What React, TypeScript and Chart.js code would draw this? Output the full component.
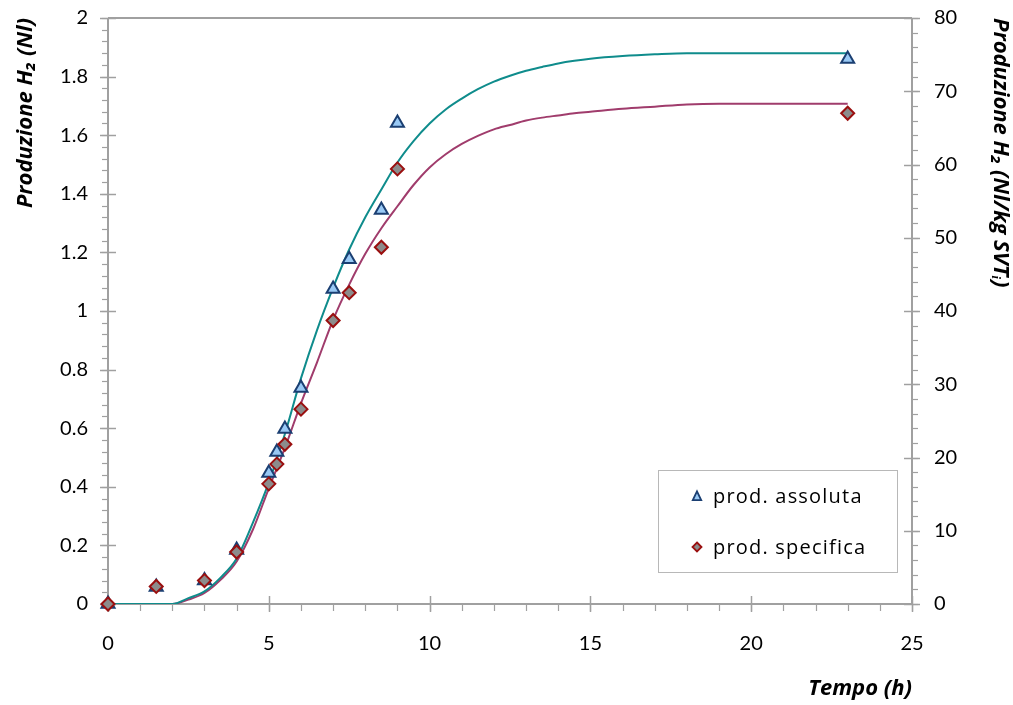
import React, { useEffect, useRef } from 'react';
import { Chart, registerables } from 'chart.js';

Chart.register(...registerables);

// Measured points
const timeMeasured = [0, 1.5, 3, 4, 5, 5.25, 5.5, 6, 7, 7.5, 8.5, 9, 23];
const prodAssoluta = [0, 0.058, 0.08, 0.184, 0.447, 0.519, 0.597, 0.737, 1.075, 1.177, 1.345, 1.642, 1.86];
const prodSpecifica = [0, 2.4, 3.2, 7.1, 16.4, 19.1, 21.8, 26.6, 38.7, 42.5, 48.7, 59.4, 67.0];

// Model curves
const timeModel = [0, 1, 2, 2.5, 3, 3.5, 4, 4.5, 5, 5.5, 6, 6.5, 7, 7.5, 8, 8.5, 9, 9.5, 10, 10.5, 11, 11.5, 12, 12.5, 13, 13.5, 14, 14.5, 15, 16, 17, 18, 19, 20, 21, 22, 23];
const modelAssoluta = [0, 0, 0, 0.02, 0.043, 0.09, 0.155, 0.276, 0.415, 0.58, 0.77, 0.935, 1.08, 1.21, 1.32, 1.415, 1.507, 1.58, 1.64, 1.688, 1.725, 1.757, 1.783, 1.803, 1.82, 1.833, 1.845, 1.854, 1.861, 1.87, 1.876, 1.88, 1.88, 1.88, 1.88, 1.88, 1.88];
const modelSpecifica = [0, 0, 0, 0.6, 1.5, 3.3, 5.8, 10.1, 15.8, 21.3, 27.4, 33.0, 38.8, 43.6, 47.8, 51.3, 54.3, 57.2, 59.6, 61.4, 62.8, 63.9, 64.8, 65.4, 66.0, 66.4, 66.7, 67.0, 67.2, 67.6, 67.9, 68.2, 68.3, 68.3, 68.3, 68.3, 68.3];

// Tick labels
const xTicks = [0, 5, 10, 15, 20, 25];
const leftTicks = [0, 0.2, 0.4, 0.6, 0.8, 1, 1.2, 1.4, 1.6, 1.8, 2];
const rightTicks = [0, 10, 20, 30, 40, 50, 60, 70, 80];

const legendLabels = ['prod. assoluta', 'prod. specifica'];

const AXIS = '#a0a0a0';
const TRI_FILL = '#99c9f5';
const TRI_BORDER = '#1b3f72';
const DIA_FILL = '#8c8c8c';
const DIA_BORDER = '#9a0f0f';
const TEAL = '#0f8c8c';
const MAROON = '#a03c6c';

const FONT = 'Lato';
const TITLE_FONT = 'Open Sans';

function drawTri(ctx: CanvasRenderingContext2D, x: number, y: number, s: number) {
  ctx.beginPath();
  ctx.moveTo(x, y - s * 0.8);
  ctx.lineTo(x + s * 0.6, y + s * 0.45);
  ctx.lineTo(x - s * 0.6, y + s * 0.45);
  ctx.closePath();
  ctx.fillStyle = TRI_FILL;
  ctx.fill();
  ctx.strokeStyle = TRI_BORDER;
  ctx.lineWidth = 1.8;
  ctx.stroke();
}

function drawDia(ctx: CanvasRenderingContext2D, x: number, y: number, s: number) {
  ctx.beginPath();
  ctx.moveTo(x, y - s);
  ctx.lineTo(x + s, y);
  ctx.lineTo(x, y + s);
  ctx.lineTo(x - s, y);
  ctx.closePath();
  ctx.fillStyle = DIA_FILL;
  ctx.fill();
  ctx.strokeStyle = DIA_BORDER;
  ctx.lineWidth = 1.8;
  ctx.stroke();
}

const axesPlugin = {
  id: 'axesDeco',
  beforeDatasetsDraw(chart: any) {
    const { ctx, chartArea: a, scales } = chart;
    const sx = scales.x;
    const sl = scales.y;
    const sr = scales.y2;
    const ln = (x1: number, y1: number, x2: number, y2: number) => {
      ctx.beginPath();
      ctx.moveTo(x1, y1);
      ctx.lineTo(x2, y2);
      ctx.stroke();
    };
    ctx.save();
    ctx.strokeStyle = AXIS;
    // minor ticks
    ctx.lineWidth = 1.2;
    for (let i = 0; i <= 50; i++) {
      const p = Math.round(sl.getPixelForValue(i * 0.04)) + 0.5;
      ln(a.left - 6, p, a.left, p);
    }
    for (let i = 0; i <= 40; i++) {
      const p = Math.round(sr.getPixelForValue(i * 2)) + 0.5;
      ln(a.right, p, a.right + 6, p);
    }
    for (let i = 0; i <= 25; i++) {
      const p = Math.round(sx.getPixelForValue(i)) + 0.5;
      ln(p, a.bottom, p, a.bottom + 7);
    }
    // major ticks
    ctx.lineWidth = 1.5;
    leftTicks.forEach((v) => {
      const p = Math.round(sl.getPixelForValue(v)) + 0.5;
      ln(a.left - 8, p, a.left + 8, p);
    });
    rightTicks.forEach((v) => {
      const p = Math.round(sr.getPixelForValue(v)) + 0.5;
      ln(a.right - 8, p, a.right + 8, p);
    });
    xTicks.forEach((v) => {
      const p = Math.round(sx.getPixelForValue(v)) + 0.5;
      ln(p, a.bottom - 8, p, a.bottom + 8);
    });
    // axis lines
    ctx.lineWidth = 2;
    ln(a.left, a.top, a.right, a.top);
    ln(a.left, a.top, a.left, a.bottom);
    ln(a.right, a.top, a.right, a.bottom);
    ln(a.left, a.bottom, a.right, a.bottom);
    ctx.restore();
  },
  afterDraw(chart: any) {
    const { ctx, chartArea: a } = chart;
    const bx = a.left + 550;
    const by = a.top + 452;
    const bw = 239;
    const bh = 102;
    ctx.save();
    ctx.fillStyle = '#ffffff';
    ctx.fillRect(bx, by, bw, bh);
    ctx.strokeStyle = '#b8b8b8';
    ctx.lineWidth = 1;
    ctx.strokeRect(bx + 0.5, by + 0.5, bw, bh);
    drawTri(ctx, bx + 39, by + 27, 7);
    drawDia(ctx, bx + 39, by + 77, 4.5);
    ctx.fillStyle = '#000';
    ctx.font = `20px "${TITLE_FONT}"`;
    (ctx as any).letterSpacing = '1.2px';
    ctx.textBaseline = 'middle';
    ctx.textAlign = 'left';
    ctx.fillText(legendLabels[0], bx + 55, by + 27);
    ctx.fillText(legendLabels[1], bx + 55, by + 78);
    ctx.restore();
  },
};

const noPad = (s: any) => {
  s.paddingTop = 0;
  s.paddingBottom = 0;
  s.paddingLeft = 0;
  s.paddingRight = 0;
};

export default function App() {
  const ref = useRef<HTMLCanvasElement>(null);
  useEffect(() => {
    document.body.style.margin = '0';
    if (!ref.current) return;
    const tickFont = { family: FONT, size: 20 };
    const titleFont = { family: TITLE_FONT, size: 22, weight: 'bold' as const, style: 'italic' as const };
    const chart = new Chart(ref.current, {
      type: 'scatter',
      data: {
        datasets: [
          {
            label: legendLabels[1],
            data: timeMeasured.map((t, i) => ({ x: t, y: prodSpecifica[i] })),
            yAxisID: 'y2',
            pointStyle: 'rectRot',
            pointRadius: 6.5,
            pointBackgroundColor: DIA_FILL,
            pointBorderColor: DIA_BORDER,
            pointBorderWidth: 2,
            showLine: false,
            clip: false,
          } as any,
          {
            label: legendLabels[0],
            data: timeMeasured.map((t, i) => ({ x: t, y: prodAssoluta[i] })),
            yAxisID: 'y',
            pointStyle: 'triangle',
            pointRadius: 7.5,
            pointBackgroundColor: TRI_FILL,
            pointBorderColor: TRI_BORDER,
            pointBorderWidth: 2,
            showLine: false,
            clip: false,
          } as any,
          {
            label: 'model assoluta',
            data: timeModel.map((t, i) => ({ x: t, y: modelAssoluta[i] })),
            yAxisID: 'y',
            showLine: true,
            borderColor: TEAL,
            borderWidth: 2,
            pointRadius: 0,
            cubicInterpolationMode: 'monotone',
          } as any,
          {
            label: 'model specifica',
            data: timeModel.map((t, i) => ({ x: t, y: modelSpecifica[i] })),
            yAxisID: 'y2',
            showLine: true,
            borderColor: MAROON,
            borderWidth: 2,
            pointRadius: 0,
            cubicInterpolationMode: 'monotone',
          } as any,
        ],
      },
      options: {
        animation: false,
        responsive: false,
        layout: { padding: { top: 18, left: 0, right: 0, bottom: 0 } },
        plugins: { legend: { display: false }, tooltip: { enabled: false } },
        scales: {
          x: {
            type: 'linear',
            position: 'bottom',
            min: 0,
            max: 25,
            afterBuildTicks: (s: any) => { s.ticks = xTicks.map((v) => ({ value: v })); },
            afterFit: (s: any) => { s.height = 101; noPad(s); },
            grid: { display: false, drawTicks: false },
            border: { display: false },
            ticks: { font: tickFont, color: '#000', padding: 28, maxRotation: 0, callback: (v: any) => String(v) },
            title: { display: true, text: 'Tempo (h)', align: 'end', font: titleFont, color: '#000', padding: { top: 0, bottom: 3 } },
          },
          y: {
            type: 'linear',
            position: 'left',
            min: 0,
            max: 2,
            afterBuildTicks: (s: any) => { s.ticks = leftTicks.map((v) => ({ value: v })); },
            afterFit: (s: any) => { s.width = 108; noPad(s); },
            grid: { display: false, drawTicks: false },
            border: { display: false },
            ticks: { font: tickFont, color: '#000', padding: 20, callback: (v: any) => String(v) },
            title: { display: true, text: 'Produzione H₂ (Nl)', align: 'end', font: titleFont, color: '#000', padding: { top: 13, bottom: 0 } },
          },
          y2: {
            type: 'linear',
            position: 'right',
            min: 0,
            max: 80,
            afterBuildTicks: (s: any) => { s.ticks = rightTicks.map((v) => ({ value: v })); },
            afterFit: (s: any) => { s.width = 101; noPad(s); },
            grid: { display: false, drawTicks: false },
            border: { display: false },
            ticks: { font: tickFont, color: '#000', padding: 22, callback: (v: any) => String(v) },
            title: { display: true, text: 'Produzione H₂ (Nl/kg SVTᵢ)', align: 'end', font: titleFont, color: '#000', padding: { top: 0, bottom: 0 } },
          },
        },
      } as any,
      plugins: [axesPlugin],
    });
    return () => chart.destroy();
  }, []);
  return (
    <div style={{ width: 1013, height: 705 }}>
      <canvas ref={ref} width={1013} height={705} style={{ display: 'block' }} />
    </div>
  );
}
